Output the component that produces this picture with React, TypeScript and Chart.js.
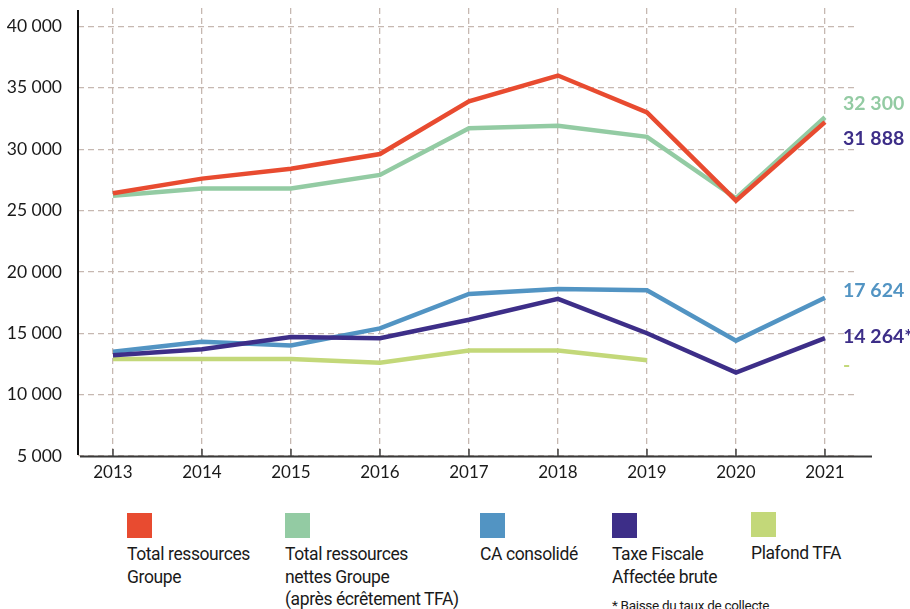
import React, { useEffect, useRef } from "react";
import Chart from "chart.js/auto";

const years = [2013, 2014, 2015, 2016, 2017, 2018, 2019, 2020, 2021];
const totalRessources = [26400, 27600, 28400, 29600, 33900, 36000, 33000, 25800, 32200];
const totalNettes = [26200, 26800, 26800, 27900, 31700, 31900, 31000, 26000, 32600];
const caConsolide = [13500, 14300, 14000, 15400, 18200, 18600, 18500, 14400, 17900];
const taxeFiscale = [13200, 13700, 14700, 14600, 16100, 17800, 15000, 11800, 14600];
const plafondTFA: (number | null)[] = [12900, 12900, 12900, 12600, 13600, 13600, 12800, null, null];
const yTicks = [5000, 10000, 15000, 20000, 25000, 30000, 35000, 40000];

const seriesNames = [
  "Total ressources Groupe",
  "Total ressources nettes Groupe (après écrêtement TFA)",
  "CA consolidé",
  "Taxe Fiscale Affectée brute",
  "Plafond TFA",
];
const legendLines = [
  ["Total ressources", "Groupe"],
  ["Total ressources", "nettes Groupe", "(après écrêtement TFA)"],
  ["CA consolidé"],
  ["Taxe Fiscale", "Affectée brute"],
  ["Plafond TFA"],
];
const endLabelTexts = ["32 300", "31 888", "17 624", "14 264*", "-"];
const footnote = "* Baisse du taux de collecte";

const COLORS = ["#e84b30", "#93cba3", "#5294c3", "#3d2e88", "#c3d879"];
// [anchor series index, label colour, pixel offset]
const endLabelStyle: [number, string, number][] = [
  [1, COLORS[1], -14],
  [0, COLORS[3], 17],
  [2, COLORS[2], -7],
  [3, COLORS[3], -1],
  [4, COLORS[4], 5],
];
const legendX = [127, 285, 480, 612, 751];

const FONT_TICK = "Lato, 'Noto Sans', sans-serif";
const FONT_LEGEND = "Roboto, 'Noto Sans', sans-serif";

const seriesValues = [totalRessources, totalNettes, caConsolide, taxeFiscale, plafondTFA];

export default function App() {
  const ref = useRef<HTMLCanvasElement | null>(null);

  useEffect(() => {
    if (!ref.current) return;
    const decor = {
      id: "decor",
      beforeDatasetsDraw(chart: any) {
        const { ctx, chartArea, scales } = chart;
        ctx.save();
        ctx.strokeStyle = "#444";
        ctx.lineWidth = 1.5;
        years.forEach((yr) => {
          const x = scales.x.getPixelForValue(yr);
          ctx.beginPath();
          ctx.moveTo(x, chartArea.bottom - 7);
          ctx.lineTo(x, chartArea.bottom);
          ctx.stroke();
        });
        ctx.strokeStyle = "#3a3a3a";
        ctx.lineWidth = 2;
        ctx.beginPath();
        ctx.moveTo(chartArea.left + 2, chartArea.bottom + 0.5);
        ctx.lineTo(chartArea.right + 14, chartArea.bottom + 0.5);
        ctx.stroke();
        ctx.strokeStyle = "#111";
        ctx.beginPath();
        ctx.moveTo(chartArea.left, chartArea.top + 2);
        ctx.lineTo(chartArea.left, chartArea.bottom - 1);
        ctx.stroke();
        ctx.restore();
      },
      afterDatasetsDraw(chart: any) {
        const { ctx, scales } = chart;
        ctx.save();
        ctx.font = `bold 19.5px ${FONT_TICK}`;
        ctx.textBaseline = "middle";
        ctx.textAlign = "left";
        const x = scales.x.getPixelForValue(years[years.length - 1]) + 18;
        endLabelTexts.forEach((t, i) => {
          const [si, col, off] = endLabelStyle[i];
          const vals = seriesValues[si];
          let v: number | null = null;
          for (let k = vals.length - 1; k >= 0; k--) {
            if (vals[k] != null) { v = vals[k] as number; break; }
          }
          const y = scales.y.getPixelForValue(v as number) + off;
          ctx.fillStyle = col;
          ctx.fillText(t, x, y);
        });
        ctx.restore();
      },
    };

    const chart = new Chart(ref.current, {
      type: "line",
      data: {
        datasets: seriesValues.map((vals, i) => ({
          label: seriesNames[i],
          data: years.map((yr, k) => ({ x: yr, y: vals[k] })),
          borderColor: COLORS[i],
          backgroundColor: COLORS[i],
          borderWidth: 4.5,
          pointRadius: 0,
          tension: 0,
          spanGaps: false,
          order: [0, 1, 3, 2, 4][i],
        })),
      },
      options: {
        animation: false,
        responsive: false,
        devicePixelRatio: 1,
        layout: { padding: { left: 0, right: 52, top: 8, bottom: 0 } },
        plugins: { legend: { display: false }, tooltip: { enabled: false } },
        scales: {
          x: {
            type: "linear",
            min: 2012.607,
            max: 2021.371,
            afterBuildTicks: (s: any) => { s.ticks = years.map((v) => ({ value: v })); },
            afterFit: (s: any) => { s.height = 34; s.paddingLeft = 0; s.paddingRight = 0; s.paddingTop = 0; s.paddingBottom = 0; },
            ticks: {
              padding: 6,
              color: "#1a1a1a",
              font: { family: FONT_TICK, size: 17 },
              callback: (v: any) => String(v),
            },
            grid: { display: true, drawTicks: false, color: "#c6b8b1", lineWidth: 1.3 },
            border: { display: false, dash: [6, 4] },
          },
          y: {
            type: "linear",
            min: 5000,
            max: 41500,
            afterBuildTicks: (s: any) => { s.ticks = yTicks.map((v) => ({ value: v })); },
            afterFit: (s: any) => { s.width = 78; s.paddingTop = 0; s.paddingBottom = 0; s.paddingLeft = 0; s.paddingRight = 0; },
            ticks: {
              padding: 16,
              color: "#1a1a1a",
              font: { family: FONT_TICK, size: 17.5 },
              callback: (v: any) => Number(v).toLocaleString("fr-FR").replace(/\s/g, " "),
            },
            grid: { display: true, drawTicks: false, color: "#c6b8b1", lineWidth: 1.3 },
            border: { display: false, dash: [6, 4] },
          },
        },
      },
      plugins: [decor],
    } as any);
    return () => chart.destroy();
  }, []);

  return (
    <div style={{ position: "absolute", left: 0, top: 0, width: 910, height: 609, background: "#fff", overflow: "hidden" }}>
      <canvas ref={ref} width={910} height={490} style={{ position: "absolute", left: 0, top: 0 }} />
      {legendLines.map((lines, i) => (
        <div key={i} style={{ position: "absolute", left: legendX[i], top: i === 4 ? 512 : 513 }}>
          <div style={{ width: 25, height: 25, background: COLORS[i] }} />
          <div style={{ marginTop: 5, fontFamily: FONT_LEGEND, fontSize: 17.5, letterSpacing: "-0.4px", lineHeight: "22.5px", color: "#1a1a1a", whiteSpace: "nowrap" }}>
            {lines.map((l, k) => (<div key={k}>{l}</div>))}
          </div>
        </div>
      ))}
      <div style={{ position: "absolute", left: legendX[3], top: 597, fontFamily: FONT_LEGEND, fontSize: 13.5, letterSpacing: "-0.3px", color: "#1a1a1a", whiteSpace: "nowrap" }}>
        {footnote}
      </div>
    </div>
  );
}
